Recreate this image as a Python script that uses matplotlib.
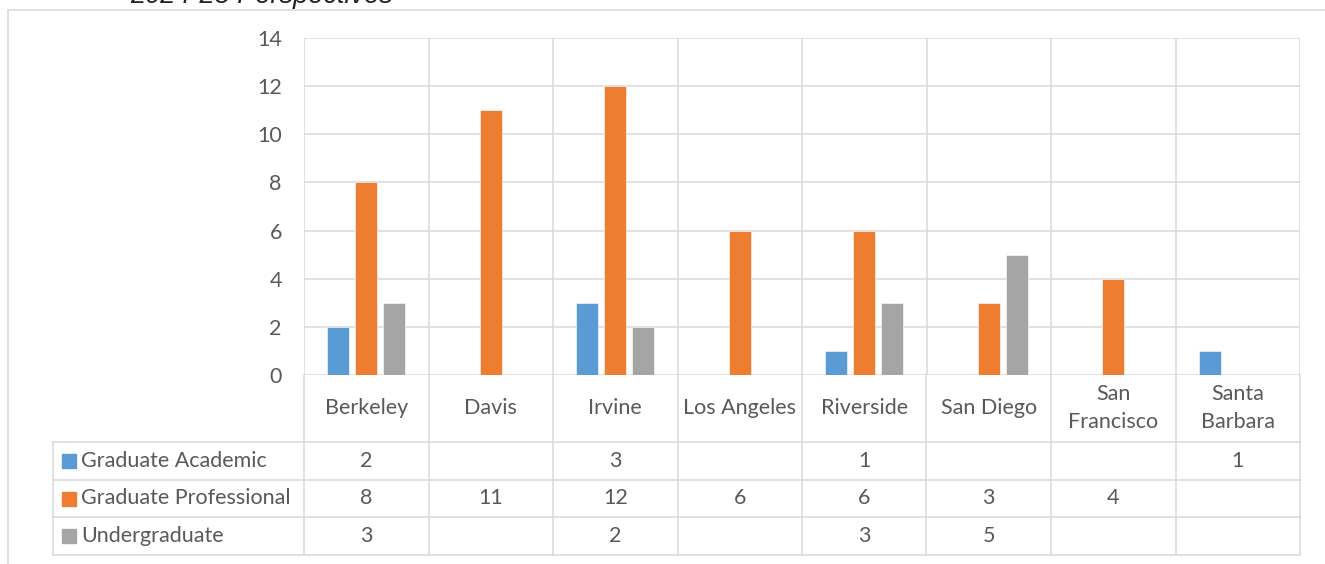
import numpy as np
import matplotlib.pyplot as plt
from matplotlib.lines import Line2D
from matplotlib.patches import Rectangle

plt.rcParams['font.family'] = ['Lato', 'DejaVu Sans']

campuses = ['Berkeley', 'Davis', 'Irvine', 'Los Angeles', 'Riverside',
            'San Diego', 'San\nFrancisco', 'Santa\nBarbara']
series = ['Graduate Academic', 'Graduate Professional', 'Undergraduate']
grad_academic = [2, np.nan, 3, np.nan, 1, np.nan, np.nan, 1]
grad_professional = [8, 11, 12, 6, 6, 3, 4, np.nan]
undergraduate = [3, np.nan, 2, np.nan, 3, 5, np.nan, np.nan]
values = [grad_academic, grad_professional, undergraduate]
colors = ['#5B9BD5', '#ED7D31', '#A5A5A5']

W, H = 1325, 564
grid_c = '#d9d9d9'
text_c = '#595959'
fs = 15.5

fig = plt.figure(figsize=(W / 100, H / 100), dpi=100)

def box(x0, y0, x1, y1):
    return [x0 / W, 1 - y1 / H, (x1 - x0) / W, (y1 - y0) / H]

# chart area frame (only top and left edges show)
fig.add_artist(Line2D([8 / W, 1], [1 - 10 / H] * 2, color=grid_c, lw=1.1))
fig.add_artist(Line2D([8 / W] * 2, [0, 1 - 10 / H], color=grid_c, lw=1.1))
fig.text(130 / W, 1 - 3 / H, '2024-25 Perspectives', family='Liberation Sans',
         style='italic', fontsize=19.5, color='#222222', va='baseline')

# bars
ax = fig.add_axes(box(304, 38, 1300, 375))
x = np.arange(len(campuses))
bw = 0.173
step = 0.225
for i, (vals, c) in enumerate(zip(values, colors)):
    ax.bar(x + (i - 1) * step, vals, bw, color=c, edgecolor='white',
           linewidth=0.4, zorder=3)
ax.set_xlim(-0.5, len(campuses) - 0.5)
ax.set_ylim(0, 14)
ax.set_yticks(range(0, 15, 2))
ax.set_xticks(np.arange(-0.5, len(campuses)))
ax.set_xticklabels([])
ax.grid(True, color=grid_c, lw=1.1, zorder=0)
ax.tick_params(length=0, pad=16, labelsize=fs, labelcolor=text_c)
for s in ax.spines.values():
    s.set_visible(False)

# data table under the bars
tab = fig.add_axes(box(53, 375, 1300, 555))
lab_w = 251 / 124.5
tab.set_xlim(-0.5 - lab_w, len(campuses) - 0.5)
tab.set_ylim(180, 0)
tab.axis('off')
row_edges = [67, 104.7, 142.3, 180]
for xb in np.arange(-0.5, len(campuses)):
    tab.plot([xb, xb], [0, 180], color=grid_c, lw=1.1, clip_on=False)
tab.plot([-0.5 - lab_w] * 2, [67, 180], color=grid_c, lw=1.1, clip_on=False)
for yb in row_edges:
    tab.plot([-0.5 - lab_w, len(campuses) - 0.5], [yb, yb], color=grid_c,
             lw=1.1, clip_on=False)

for j, name in enumerate(campuses):
    tab.text(j, 33, name, ha='center', va='center', fontsize=fs,
             color=text_c, linespacing=1.45)

for i, (name, vals, c) in enumerate(zip(series, values, colors)):
    yc = (row_edges[i] + row_edges[i + 1]) / 2
    x0 = -0.5 - lab_w + 9 / 124.5
    tab.add_patch(Rectangle((x0, yc - 7), 14 / 124.5, 14, color=c, clip_on=False))
    tab.text(x0 + 19 / 124.5, yc, name, ha='left', va='center', fontsize=fs,
             color=text_c)
    for j, v in enumerate(vals):
        if not np.isnan(v):
            tab.text(j, yc, f'{v:g}', ha='center', va='center', fontsize=fs,
                     color=text_c)

fig.savefig('out.png', dpi=100)
